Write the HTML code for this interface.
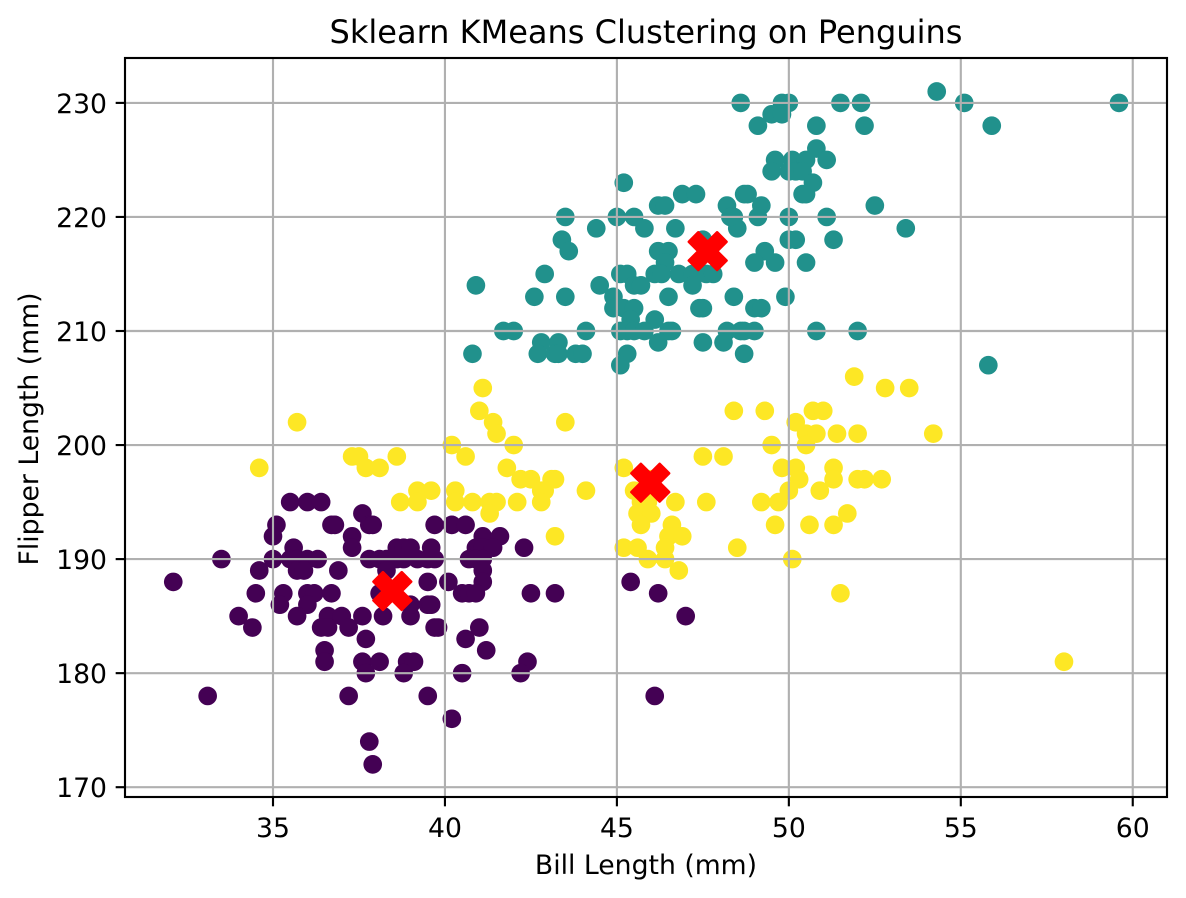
<!DOCTYPE html>
<html>
<head>
<meta charset="utf-8">
<title>Sklearn KMeans Clustering on Penguins</title>
<style>
html,body{margin:0;padding:0;background:#fff;}
svg{display:block;}
text{font-family:"DejaVu Sans","Liberation Sans",sans-serif;fill:#000;}
</style>
</head>
<body>
<svg id="chart" xmlns="http://www.w3.org/2000/svg" width="1186" height="898" viewBox="0 0 1186 898"></svg>
<script>
const xTicks = [35, 40, 45, 50, 55, 60];
const yTicks = [170, 180, 190, 200, 210, 220, 230];

const cluster0Bill = [35.5,36.0,36.4,37.6,35.1,35.0,36.7,36.8,37.8,37.9,37.3,37.3,35.6,33.5,35.0,35.5,35.7,36.0,36.3,37.8,38.1,38.3,38.6,38.8,39.2,39.5,39.7,38.6,38.8,39.0,39.6,34.6,35.7,35.9,36.9,38.3,32.1,34.5,35.3,36.0,36.2,36.7,35.2,36.0,35.7,34.0,36.6,37.0,37.6,38.2,39.0,34.4,36.4,36.6,37.2,37.7,36.5,36.5,37.6,38.1,38.9,39.1,37.7,38.8,33.1,37.2,39.5,37.8,37.9,39.7,40.2,40.6,41.1,41.6,40.9,41.1,41.4,42.3,40.7,40.9,41.1,41.1,39.5,40.1,41.1,45.4,38.1,40.5,40.7,40.9,42.5,43.2,46.2,39.0,39.5,39.6,39.7,39.8,41.0,40.6,41.2,42.4,42.2,40.5,40.2,46.1,47.0];
const cluster0Flipper = [195,195,195,194,193,192,193,193,193,193,192,191,191,190,190,190,190,190,190,190,190,190,190,190,190,190,190,191,191,191,191,189,189,189,189,189,188,187,187,187,187,187,186,186,185,185,185,185,185,185,185,184,184,184,184,183,182,181,181,181,181,181,180,180,178,178,178,174,172,193,193,193,192,192,191,191,191,191,190,190,190,189,188,188,188,188,187,187,187,187,187,187,187,186,186,186,184,184,184,183,182,181,180,180,176,178,185];

const cluster1Bill = [45.2,43.5,45.0,45.5,45.8,46.7,44.4,43.4,43.6,46.2,46.5,46.4,42.9,45.1,45.3,46.1,46.3,46.8,47.2,47.6,47.8,45.5,45.7,47.2,44.5,40.9,42.6,43.5,44.9,46.5,48.4,44.9,45.2,45.5,47.4,47.5,46.1,45.4,41.7,42.0,44.1,45.1,45.3,45.5,45.8,46.5,46.6,48.2,48.6,42.8,43.3,46.2,47.5,48.1,40.8,42.7,43.2,43.3,43.8,44.0,45.3,48.7,45.1,46.9,47.3,46.2,46.4,48.2,48.4,48.5,47.5,48.6,49.8,50.0,51.5,52.1,49.5,49.8,49.1,50.8,52.2,50.8,49.6,50.1,50.5,51.1,49.5,50.0,50.2,50.4,50.7,50.4,50.5,48.7,48.8,49.2,52.5,48.3,49.1,50.0,51.1,53.4,50.0,50.2,51.3,49.3,49.0,49.6,50.5,49.9,50.8,52.0,55.8,48.7,49.0,49.0,49.2,54.3,55.1,55.9,59.6];
const cluster1Flipper = [223,220,220,220,219,219,219,218,217,217,217,216,215,215,215,215,215,215,215,215,215,214,214,214,214,214,213,213,213,213,213,212,212,212,212,212,211,211,210,210,210,210,210,210,210,210,210,210,210,209,209,209,209,209,208,208,208,208,208,208,208,208,207,222,222,221,221,221,220,219,218,230,230,230,230,230,229,229,228,228,228,226,225,225,225,225,224,224,224,224,223,222,222,222,222,221,221,220,220,220,220,219,218,218,218,217,216,216,216,213,210,210,207,210,210,212,212,231,230,228,230];

const cluster2Bill = [41.1,41.0,41.4,41.5,42.0,40.2,40.6,37.3,37.5,38.6,37.7,38.1,41.8,42.2,42.5,43.1,43.2,42.8,42.9,39.2,39.6,40.3,44.1,38.7,39.2,40.3,40.8,41.3,41.5,42.1,42.8,41.3,43.2,43.5,34.6,35.7,51.9,52.8,53.5,48.4,49.3,50.7,51.0,50.2,50.5,50.8,51.4,52.0,54.2,49.5,50.5,47.5,48.1,45.2,49.8,50.2,51.3,50.3,51.3,52.0,52.2,52.7,45.5,50.0,50.9,46.7,47.6,49.2,49.7,45.7,45.9,45.6,46.0,45.7,51.7,49.6,50.6,51.3,46.6,46.5,46.9,46.4,45.2,45.6,48.5,45.9,46.4,50.1,46.8,51.5,58.0,46.0,45.8];
const cluster2Flipper = [205,203,202,201,200,200,199,199,199,199,198,198,198,197,197,197,197,196,196,196,196,196,196,195,195,195,195,195,195,195,195,194,192,202,198,202,206,205,205,203,203,203,203,202,201,201,201,201,201,200,200,199,199,198,198,198,198,197,197,197,197,197,196,196,196,195,195,195,195,195,195,194,194,193,194,193,193,193,193,192,192,191,191,191,191,190,190,190,189,187,181,197,196];

const centroidBill = [38.47, 45.97, 47.64];
const centroidFlipper = [187.2, 196.7, 217.0];

const NS = 'http://www.w3.org/2000/svg';
const svg = document.getElementById('chart');
const plot = { left: 125, right: 1167, top: 58, bottom: 797 };
const xScale = v => 273 + (v - 35) * 34.39;
const yScale = v => 787.2 - (v - 170) * 11.405;
const COLORS = ['#440154', '#21918c', '#fde725'];

function make(tag, attrs, parent) {
  const el = document.createElementNS(NS, tag);
  for (const k in attrs) el.setAttribute(k, attrs[k]);
  (parent || svg).appendChild(el);
  return el;
}

function drawCluster(bill, flipper, color, name) {
  const g = make('g', { fill: color });
  
  
  bill.forEach((b, i) => {
    const c = make('circle', { cx: xScale(b), cy: yScale(flipper[i]), r: 9.33 }, g);
    
    
  });
}

drawCluster(cluster2Bill, cluster2Flipper, COLORS[2], 'cluster-2-points');
drawCluster(cluster1Bill, cluster1Flipper, COLORS[1], 'cluster-1-points');
drawCluster(cluster0Bill, cluster0Flipper, COLORS[0], 'cluster-0-points');

xTicks.forEach(t => {
  const x = xScale(t);
  const grid = make('line', { x1: x, x2: x, y1: plot.top, y2: plot.bottom, stroke: '#b0b0b0', 'stroke-width': 2.13 });
  
  
  const tick = make('line', { x1: x, x2: x, y1: plot.bottom, y2: plot.bottom + 9.33, stroke: '#000', 'stroke-width': 2.13 });
  
  
  const label = make('text', { x: x, y: 837, 'font-size': 26.67, 'text-anchor': 'middle' });
  
  
  label.textContent = t;
});

yTicks.forEach(t => {
  const y = yScale(t);
  const grid = make('line', { x1: plot.left, x2: plot.right, y1: y, y2: y, stroke: '#b0b0b0', 'stroke-width': 2.13 });
  
  
  const tick = make('line', { x1: plot.left - 9.33, x2: plot.left, y1: y, y2: y, stroke: '#000', 'stroke-width': 2.13 });
  
  
  const label = make('text', { x: 107, y: y + 10, 'font-size': 26.67, 'text-anchor': 'end' });
  
  
  label.textContent = t;
});

const X_UNIT = 9.4;
const X_SHAPE = [[-1,-2],[0,-1],[1,-2],[2,-1],[1,0],[2,1],[1,2],[0,1],[-1,2],[-2,1],[-1,0],[-2,-1]];
centroidBill.forEach((b, i) => {
  const cx = xScale(b);
  const cy = yScale(centroidFlipper[i]);
  const pts = X_SHAPE.map(p => (cx + p[0] * X_UNIT) + ',' + (cy + p[1] * X_UNIT)).join(' ');
  const m = make('polygon', { points: pts, fill: '#ff0000', stroke: '#ff0000', 'stroke-width': 2.67, 'stroke-linejoin': 'round' });
  
  
});

const frame = make('rect', { x: plot.left, y: plot.top, width: plot.right - plot.left, height: plot.bottom - plot.top, fill: 'none', stroke: '#000', 'stroke-width': 2.13 });



const title = make('text', { x: 646, y: 43, 'font-size': 32, 'text-anchor': 'middle' });


title.textContent = 'Sklearn KMeans Clustering on Penguins';

const xTitle = make('text', { x: 646, y: 874, 'font-size': 26.67, 'text-anchor': 'middle' });


xTitle.textContent = 'Bill Length (mm)';

const yTitle = make('text', { x: 0, y: 0, 'font-size': 26.67, 'text-anchor': 'middle', transform: 'translate(38 429) rotate(-90)' });


yTitle.textContent = 'Flipper Length (mm)';
</script>
</body>
</html>
